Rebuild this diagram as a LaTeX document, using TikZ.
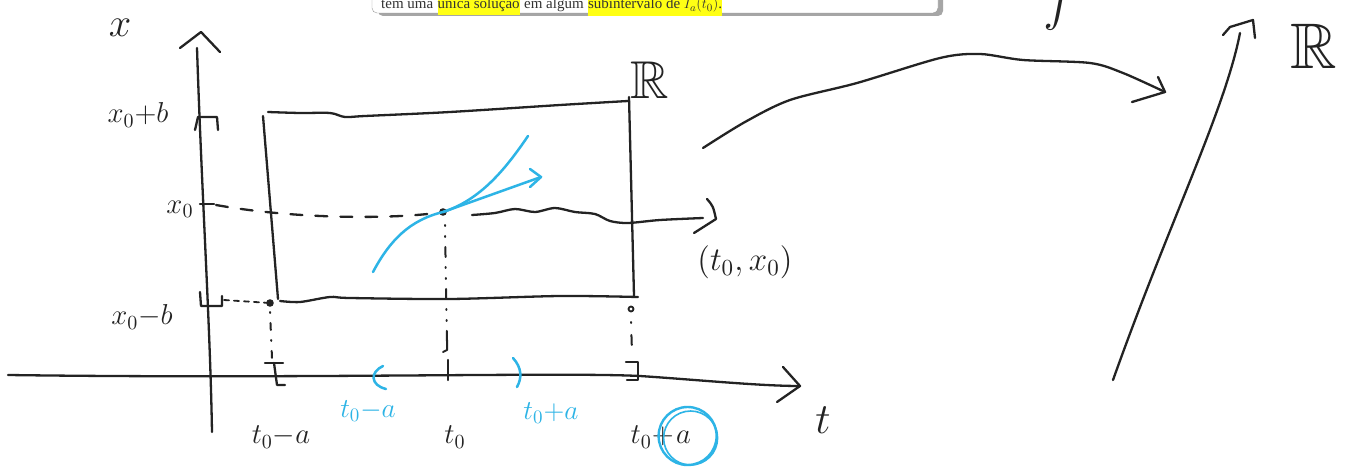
\documentclass[tikz,border=0pt]{standalone}
\usepackage{amssymb}
\usepackage{graphicx}
\usepackage{fontspec}
\setmainfont{Liberation Serif}
\definecolor{inkc}{RGB}{35,35,35}
\definecolor{bluec}{RGB}{45,180,230}
\definecolor{hly}{RGB}{255,255,20}
\newcommand{\hwsize}[2]{\scalebox{#1}{#2}}
\begin{document}
\begin{tikzpicture}[x=1pt,y=-1pt,line cap=round,line join=round,
  ink/.style={draw=inkc,line width=2.3pt},
  blueink/.style={draw=bluec,line width=2.5pt},
  lbl/.style={text=inkc,inner sep=0pt,font=\fontsize{14}{16}\selectfont},
  blbl/.style={text=bluec,inner sep=0pt,font=\fontsize{14}{16}\selectfont},
  topt/.style={inner sep=0pt,text=black!80,font=\fontsize{15}{17}\selectfont},
  hl/.style={fill=hly,inner xsep=0pt,inner ysep=3pt},
  dotpt/.style={fill=inkc}]
\clip (0,0) rectangle (1346,473);
\fill[white] (0,0) rectangle (1346,473);
\useasboundingbox (0,0) rectangle (1346,473);

% cut-off text box at the top
\fill[black!35,rounded corners=5pt] (378,-20) rectangle (943,16);
\draw[black!40,fill=white,rounded corners=5pt] (372,-20) rectangle (938,13);
\node[topt,anchor=base west] (s1) at (381,9) {tem uma\kern4pt};
\node[topt,hl,anchor=base west] (s2) at (s1.base east) {única solução};
\node[topt,anchor=base west] (s3) at (s2.base east) {\kern4pt em algum\kern4pt};
\node[topt,hl,anchor=base west] (s4) at (s3.base east) {subintervalo de $I_a(t_0)$.};

% coordinates
\coordinate (tA) at (8,375);
\coordinate (tB) at (800,386);
\coordinate (xA) at (197,48);
\coordinate (xB) at (212,432);
\coordinate (P0) at (443,212);
\coordinate (Pl) at (270,303);
\coordinate (Pr) at (631,309);

% t axis
\draw[ink] (tA) .. controls (300,379) and (560,372) .. (640,376) .. controls (700,380) and (760,386) .. (tB);
\draw[ink] (783,367) -- (tB) -- (777,402);
% x axis
\draw[ink] (xA) .. controls (202,200) and (210,320) .. (xB);
\draw[ink] (180,48) -- (201,32) -- (220,52);

% ticks on x axis
\draw[ink] (195,130) -- (198,117) -- (217,117) -- (218,130);
\draw[ink] (200,204) -- (214,204);
\draw[ink] (200,292) -- (201,306) -- (222,306) -- (222,296);

% rectangle R
\draw[ink] (263,116) -- (278,299);
\draw[ink] plot[smooth] coordinates {(268,112) (300,113) (330,113) (345,117) (365,116) (450,112) (560,105) (628,101)};
\draw[ink] (629,97) -- (634,296);
\draw[ink] plot[smooth] coordinates {(280,301) (300,302) (330,297) (350,298) (450,299) (560,296) (638,297)};

% dashed / dotted guides
\draw[ink,dash pattern=on 12pt off 13pt] (216,205) .. controls (300,220) and (400,219) .. (P0);
\draw[ink,dash pattern=on 5pt off 5pt,line width=1.8pt] (224,300) -- (Pl);
\draw[ink,dash pattern=on 1pt off 10pt on 7pt off 10pt,line width=2pt] (270,312) -- (272,358);
\draw[ink,dash pattern=on 1pt off 10pt on 1pt off 10pt on 10pt off 10pt,line width=2pt] (445,225) -- (447,346);
\draw[ink,line width=2pt] (447,340) -- (447,350) -- (443,352);
\draw[ink,dash pattern=on 1pt off 12pt on 10pt off 12pt,line width=2pt] (631,322) -- (632,352);

\fill[dotpt] (Pl) circle (3.8);
\fill[dotpt] (P0) circle (3.8);
\draw[inkc,line width=1.8pt] (Pr) circle (2.5);

% ticks on t axis
\draw[ink] (265,363) -- (283,363);
\draw[ink] (274,363) -- (277,385) -- (285,385);
\draw[ink] (448,360) -- (448,380);
\draw[ink] (626,362) -- (638,362) -- (638,380) -- (627,380);

% wavy line to (t0,x0)
\draw[ink] plot[smooth] coordinates {(472,215) (495,213) (515,209) (535,212) (555,208) (575,212) (595,214) (610,221) (628,223) (660,220) (703,218)};
\draw[ink] (707,199) .. controls (713,206) .. (716,219) -- (694,233);

% blue solution curve and tangent arrow
\draw[blueink] (373,272) .. controls (390,240) and (410,220) .. (P0) .. controls (480,200) and (505,170) .. (528,136);
\coordinate (bT) at (541,177);
\draw[blueink] (P0) -- (bT);
\draw[blueink] (530,169) -- (bT) -- (530,187);
% blue parentheses
\draw[blueink] (383,366) .. controls (370,372) and (370,385) .. (386,389);
\draw[blueink] (513,358) .. controls (522,368) and (522,378) .. (517,387);

% labels
\node[lbl] (lx) at (120,28) {\hwsize{2.8}{$x$}};
\node[lbl] (lxpb) at (138,115) {\hwsize{2}{$x_0{+}b$}};
\node[lbl] (lx0) at (180,209) {\hwsize{2}{$x_0$}};
\node[lbl] (lxmb) at (142,317) {\hwsize{2}{$x_0{-}b$}};
\node[lbl] (ltma) at (281,437) {\hwsize{2}{$t_0{-}a$}};
\node[blbl] (bltma) at (368,411) {\hwsize{1.9}{$t_0{-}a$}};
\node[lbl] (lt0) at (455,437) {\hwsize{2}{$t_0$}};
\node[blbl] (bltpa) at (551,413) {\hwsize{1.9}{$t_0{+}a$}};
\node[lbl,anchor=east] (ltp) at (674,437) {\hwsize{2}{$t_0{+}$}};
\node[lbl,anchor=west] (la) at ([xshift=2pt]ltp.east) {\hwsize{2}{$a$}};
\draw[bluec,line width=2.4pt] ([xshift=4pt,yshift=1pt]la.center) circle (29pt);
\draw[bluec,line width=1.6pt] ([xshift=7pt,yshift=-1pt]la.center) circle (27pt);
\node[lbl] (lt) at (823,420) {\hwsize{3}{$t$}};
\node[lbl] (lpt) at (745,262) {\hwsize{2.3}{$(t_0,x_0)$}};
\node[lbl] (lR1) at (650,80) {\hwsize{3.8}{$\mathbb{R}$}};
\node[lbl] (lR2) at (1314,46) {\hwsize{4.6}{$\mathbb{R}$}};
\node[lbl,anchor=base] (lf) at (1060,20) {\hwsize{3.8}{$f$}};

% map arrow f
\coordinate (mA) at (703,148);
\coordinate (mB) at (1165,92);
\draw[ink] plot[smooth] coordinates {(mA) (745,122) (790,100) (857,83) (940,58) (980,54) (1023,60) (1090,63) (1123,73) (mB)};
\draw[ink] (1158,77) -- (mB) -- (1132,102);

% real line axis
\coordinate (rA) at (1113,380);
\coordinate (rB) at (1240,33);
\draw[ink] (rA) .. controls (1170,220) and (1225,110) .. (rB);
\draw[ink] (1223,35) -- (1230,27) -- (1253,20) -- (1255,38);
\end{tikzpicture}
\end{document}
